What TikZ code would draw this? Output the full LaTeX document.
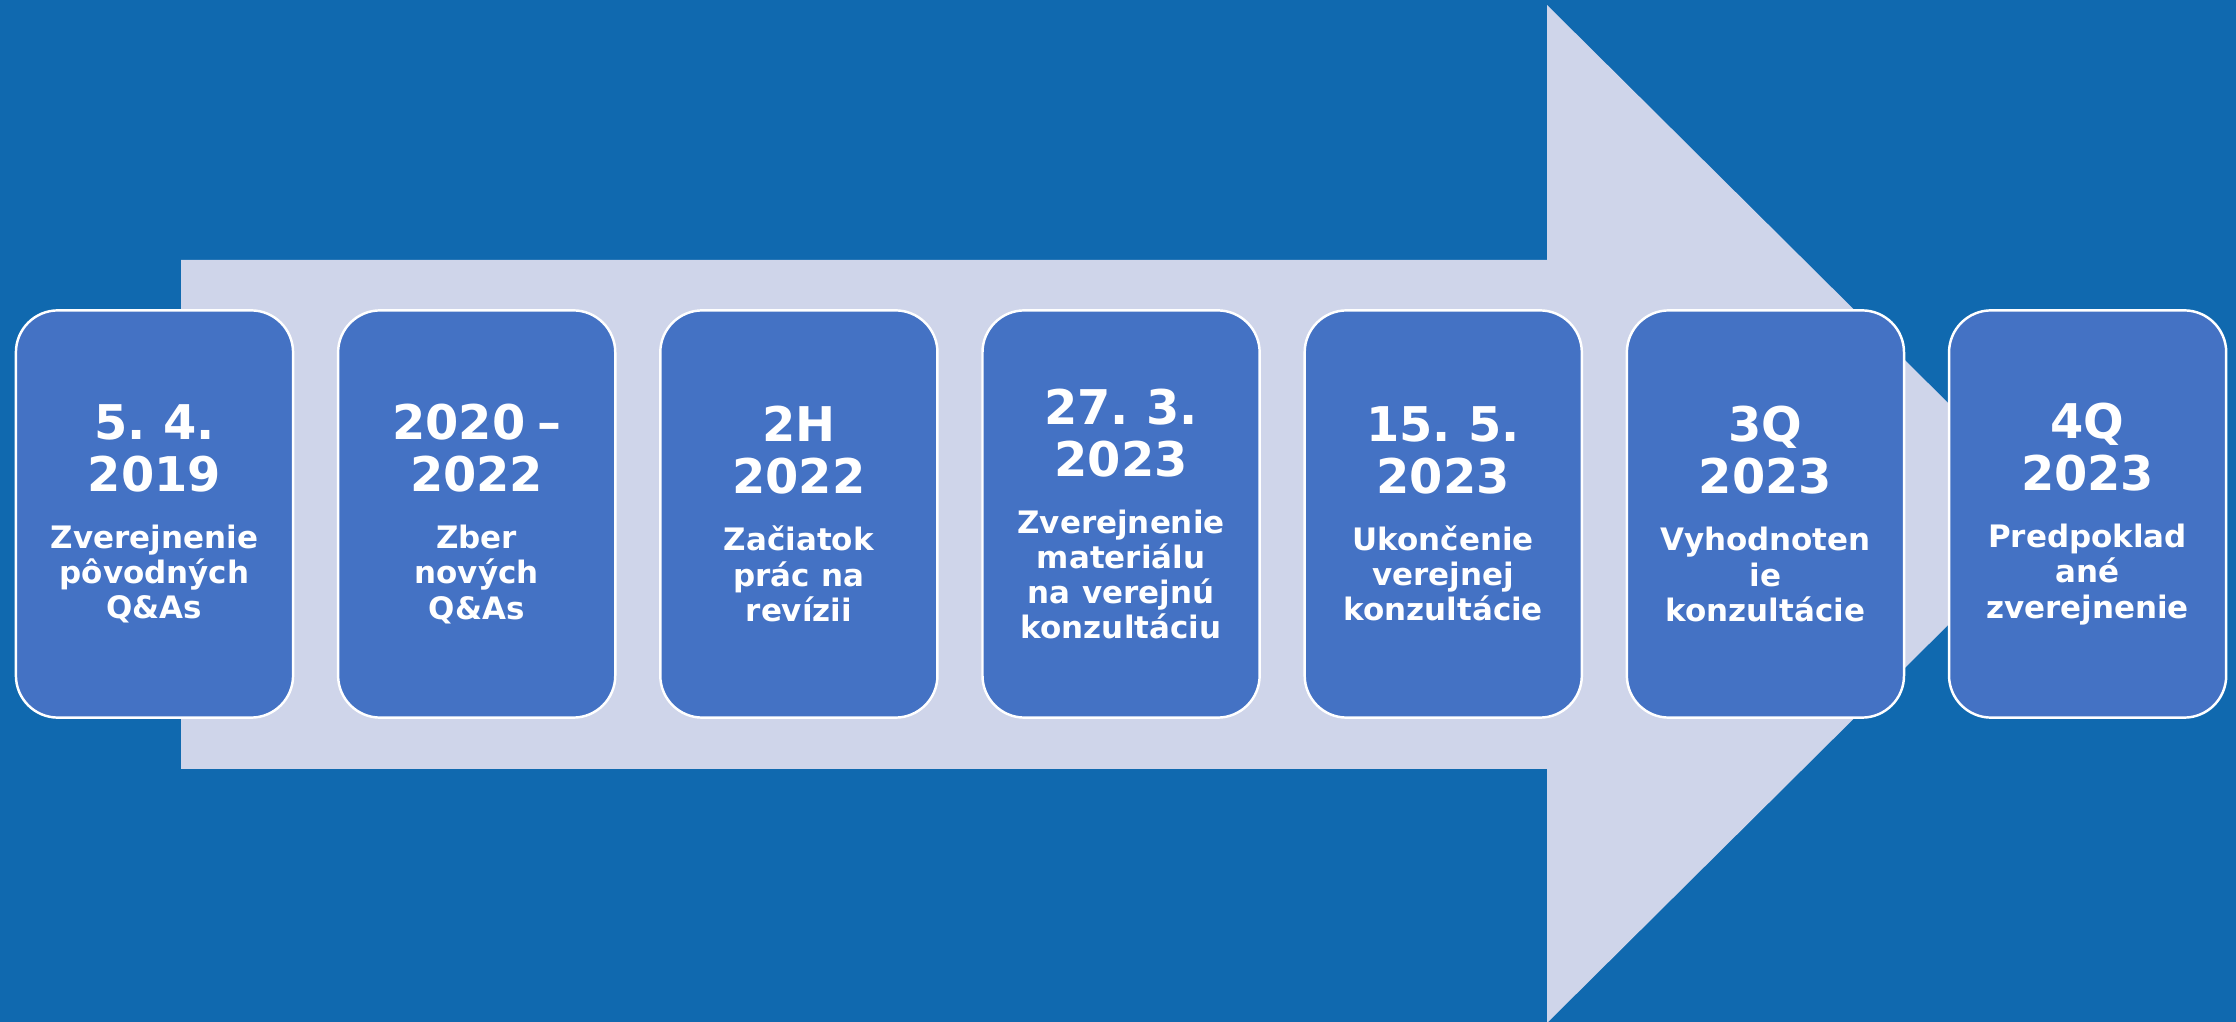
\documentclass[tikz,border=0pt]{standalone}
\usepackage{fontspec}
\setmainfont{DejaVu Sans}
\usetikzlibrary{positioning}
\definecolor{bgblue}{RGB}{16,105,175}
\definecolor{arrowgray}{RGB}{207,213,234}
\definecolor{boxblue}{RGB}{68,114,196}
\newcommand{\stagedate}[1]{{\fontsize{13.6}{14.8}\selectfont #1\par}}
\newcommand{\stagedesc}[1]{\vspace{6.2pt}{\fontsize{8.8}{10}\selectfont #1\par}}

\begin{document}
\begin{tikzpicture}[x=0.01cm, y=-0.01cm]
			\tikzstyle{stagebox}=[draw=white, line width=0.7pt, fill=boxblue, rounded corners=0.42cm, minimum width=2.77cm, minimum height=4.07cm, inner sep=0pt, outer sep=0pt]
			\tikzstyle{stagetext}=[text=white, font=\bfseries, text width=2.75cm, align=center, inner sep=0pt]
			\useasboundingbox (0,0) rectangle (2236,1022);
			\fill [bgblue] (0,0) rectangle (2236,1022);
			% big arrow behind the stages
			\fill [arrowgray] (181,260) -- (1547,260) -- (1547,5) -- (2060,514) -- (1547,1023) -- (1547,769) -- (181,769) -- cycle;
			\node [stagebox] (b1) at (154.5,514) {};
			\node [stagebox, right=0.45cm of b1] (b2) {};
			\node [stagebox, right=0.45cm of b2] (b3) {};
			\node [stagebox, right=0.45cm of b3] (b4) {};
			\node [stagebox, right=0.45cm of b4] (b5) {};
			\node [stagebox, right=0.45cm of b5] (b6) {};
			\node [stagebox, right=0.45cm of b6] (b7) {};
			\node [stagetext] (t1) at (b1.center) {\stagedate{5. 4.\\2019}\stagedesc{Zverejnenie\\pôvodných\\Q\&As}};
			\node [stagetext] (t2) at (b2.center) {\stagedate{2020 –\\2022}\stagedesc{Zber\\nových\\Q\&As}};
			\node [stagetext] (t3) at (b3.center) {\stagedate{2H\\2022}\stagedesc{Začiatok\\prác na\\revízii}};
			\node [stagetext] (t4) at (b4.center) {\stagedate{27. 3.\\2023}\stagedesc{Zverejnenie\\materiálu\\na verejnú\\konzultáciu}};
			\node [stagetext] (t5) at (b5.center) {\stagedate{15. 5.\\2023}\stagedesc{Ukončenie\\verejnej\\konzultácie}};
			\node [stagetext] (t6) at (b6.center) {\stagedate{3Q\\2023}\stagedesc{Vyhodnoten\\ie\\konzultácie}};
			\node [stagetext] (t7) at (b7.center) {\stagedate{4Q\\2023}\stagedesc{Predpoklad\\ané\\zverejnenie}};
		\end{tikzpicture}
\end{document}
